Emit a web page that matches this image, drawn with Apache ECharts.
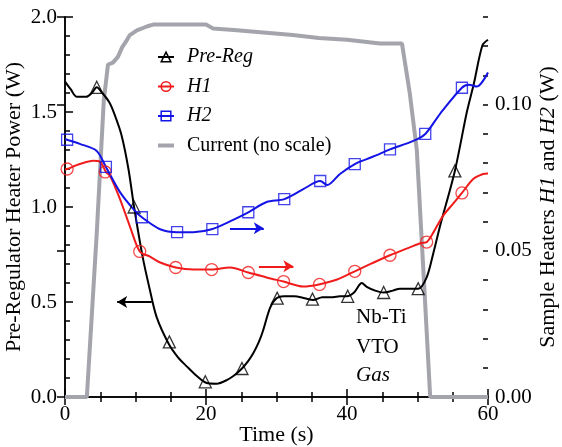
<!DOCTYPE html>
<html>
<head>
<meta charset="utf-8">
<script src="https://cdn.jsdelivr.net/npm/echarts@6/dist/echarts.min.js"></script>
<style>html,body{margin:0;padding:0;background:#fff;}#c{width:562px;height:447px;}</style>
</head>
<body>
<div id="c"></div>
<script>
// ---- Data ----
// Pre-Regulator heater power (W), left axis
var preT = [0, 0.8, 1.7, 3.0, 3.8, 4.5, 5.3, 6.3, 7.0, 8.0, 9.0, 9.8, 11.0, 12.0, 13.0, 14.7, 16.0, 17.3, 18.7, 20.0, 21.5, 23.0, 24.2, 25.1, 26.0, 26.7, 27.5, 28.1, 29.1, 30.0, 31.0, 32.5, 34.0, 35.2, 36.5, 38.0, 39.0, 40.0, 41.0, 42.1, 42.8, 44.0, 45.2, 46.5, 47.5, 49.0, 50.1, 51.3, 52.2, 53.2, 55.3, 57.0, 58.0, 59.2, 60];
var preW = [1.66, 1.62, 1.58, 1.58, 1.60, 1.63, 1.60, 1.55, 1.49, 1.38, 1.20, 1.00, 0.74, 0.57, 0.42, 0.28, 0.21, 0.16, 0.11, 0.075, 0.07, 0.09, 0.12, 0.15, 0.19, 0.23, 0.29, 0.35, 0.47, 0.52, 0.53, 0.53, 0.52, 0.51, 0.525, 0.525, 0.53, 0.53, 0.55, 0.60, 0.58, 0.56, 0.55, 0.56, 0.57, 0.57, 0.57, 0.63, 0.75, 0.90, 1.19, 1.50, 1.65, 1.85, 1.88];
var preMarkT = [4.5, 9.8, 14.8, 19.9, 25.1, 30.1, 35.1, 40.1, 45.2, 50.1, 55.3];
var preMarkW = [1.63, 1.00, 0.29, 0.08, 0.15, 0.52, 0.515, 0.53, 0.55, 0.57, 1.19];

// Sample heater H1 (W), right axis
var h1T = [0, 0.3, 2.1, 4.0, 5.0, 5.8, 6.4, 7.8, 9.2, 10.6, 12.0, 13.5, 15.7, 18.2, 20.8, 23.4, 26.0, 28.6, 31.0, 33.8, 36.0, 38.6, 41.1, 43.5, 46.1, 48.9, 50.5, 51.3, 52.3, 53.6, 55.0, 56.3, 57.9, 59.3, 60];
var h1V = [0.0778, 0.078, 0.0797, 0.0808, 0.0804, 0.077, 0.0756, 0.0677, 0.0584, 0.0498, 0.0481, 0.046, 0.0443, 0.0436, 0.0436, 0.0443, 0.0426, 0.0409, 0.0395, 0.0378, 0.0385, 0.0402, 0.043, 0.0457, 0.0485, 0.0512, 0.0527, 0.053, 0.0565, 0.0619, 0.066, 0.0698, 0.0746, 0.0763, 0.0765];
var h1MarkT = [0.3, 5.7, 10.6, 15.7, 20.8, 26.0, 31.0, 36.1, 41.1, 46.1, 51.3, 56.3];
var h1MarkV = [0.078, 0.077, 0.0498, 0.0443, 0.0436, 0.0426, 0.0395, 0.0385, 0.043, 0.0485, 0.053, 0.0698];

// Sample heater H2 (W), right axis
var h2T = [0, 0.3, 2.1, 4.5, 5.8, 7.8, 9.7, 10.9, 13.5, 15.9, 18.2, 20.8, 23.4, 26.0, 28.6, 31.1, 33.8, 36.2, 37.2, 39.0, 41.1, 42.8, 44.5, 46.1, 49.4, 51.1, 53.2, 56.3, 57.3, 58.4, 60];
var h2V = [0.0882, 0.088, 0.0866, 0.0842, 0.0787, 0.0701, 0.0643, 0.0615, 0.0574, 0.0564, 0.0564, 0.0574, 0.0601, 0.0632, 0.0667, 0.0677, 0.0711, 0.0739, 0.0725, 0.0763, 0.0797, 0.0814, 0.083, 0.0847, 0.0876, 0.090, 0.0969, 0.1058, 0.1068, 0.1062, 0.1110];
var h2MarkT = [0.3, 5.8, 10.9, 15.9, 20.9, 26.0, 31.1, 36.2, 41.1, 46.1, 51.1, 56.3];
var h2MarkV = [0.088, 0.0787, 0.0615, 0.0564, 0.0574, 0.0632, 0.0677, 0.0739, 0.0797, 0.0847, 0.090, 0.1058];

// Current (no scale), drawn against the left axis
var curT = [0, 3.1, 4.5, 5.0, 5.5, 6.1, 6.8, 7.5, 8.1, 8.8, 9.2, 10.2, 11.6, 12.5, 20.0, 21.0, 24.4, 27.7, 32.3, 36.0, 40.0, 44.7, 47.8, 48.9, 49.9, 50.9, 51.8, 60];
var curV = [0, 0, 0.86, 1.21, 1.56, 1.75, 1.76, 1.79, 1.84, 1.88, 1.905, 1.93, 1.95, 1.96, 1.96, 1.94, 1.93, 1.92, 1.905, 1.89, 1.88, 1.86, 1.86, 1.60, 1.30, 0.62, 0, 0];

// Axis ticks
var xTicks = [0, 20, 40, 60];
var leftTicks = [0.0, 0.5, 1.0, 1.5, 2.0];
var rightTicks = [0.00, 0.05, 0.10];

function zip(a, b) { return a.map(function (v, i) { return [v, b[i]]; }); }

var FONT = 'Liberation Serif';
var RED = '#f01c1c', BLUE = '#1414e6', GRAY = '#a4a4ac', BLACK = '#000';

var chart = echarts.init(document.getElementById('c'), null, { renderer: 'canvas' });

var axisLineStyle = { color: BLACK, width: 1.5 };

var option = {
  animation: false,
  backgroundColor: '#fff',
  grid: { left: 65, right: 74, top: 17, bottom: 50, containLabel: false, outerBoundsMode: 'none' },
  xAxis: [
    {
      type: 'value', min: xTicks[0], max: xTicks[xTicks.length - 1], interval: 20,
      name: 'Time (s)', nameLocation: 'middle', nameGap: 27, nameMoveOverlap: false,
      nameTextStyle: { fontFamily: FONT, fontSize: 22, color: BLACK },
      axisLine: { lineStyle: axisLineStyle },
      axisTick: { inside: true, length: 8, lineStyle: { color: BLACK, width: 1.5 } },
      minorTick: { show: true, splitNumber: 4, length: 5, lineStyle: { color: BLACK, width: 1.5 } },
      axisLabel: { fontFamily: FONT, fontSize: 21, color: BLACK, margin: 7 },
      splitLine: { show: false }
    },
    {
      type: 'value', position: 'top', min: xTicks[0], max: xTicks[xTicks.length - 1], interval: 20,
      axisLine: { lineStyle: axisLineStyle },
      axisTick: { inside: true, length: 8, lineStyle: { color: BLACK, width: 1.5 } },
      minorTick: { show: true, splitNumber: 4, length: 5, lineStyle: { color: BLACK, width: 1.5 } },
      axisLabel: { show: false },
      splitLine: { show: false }
    }
  ],
  yAxis: [
    {
      type: 'value', position: 'left', min: leftTicks[0], max: leftTicks[leftTicks.length - 1], interval: 0.5,
      name: 'Pre-Regulator Heater Power (W)', nameLocation: 'middle', nameGap: 40, nameRotate: 90, nameMoveOverlap: false,
      nameTextStyle: { fontFamily: FONT, fontSize: 22, color: BLACK },
      axisLine: { lineStyle: axisLineStyle },
      axisTick: { inside: true, length: 8, lineStyle: { color: BLACK, width: 1.5 } },
      minorTick: { show: true, splitNumber: 5, length: 5, lineStyle: { color: BLACK, width: 1.5 } },
      axisLabel: { fontFamily: FONT, fontSize: 21, color: BLACK, margin: 8,
        formatter: function (v) { return v.toFixed(1); } },
      splitLine: { show: false }
    },
    {
      type: 'value', position: 'right', min: rightTicks[0], max: 0.13, interval: 0.05,
      name: '{n|Sample Heaters }{i|H1}{n| and }{i|H2}{n| (W)}', nameLocation: 'middle', nameGap: 49, nameRotate: 90, nameMoveOverlap: false,
      nameTextStyle: { fontFamily: FONT, fontSize: 22, color: BLACK,
        rich: { n: { fontFamily: FONT, fontSize: 22, color: BLACK }, i: { fontFamily: FONT, fontSize: 22, fontStyle: 'italic', color: BLACK } } },
      axisLine: { lineStyle: axisLineStyle },
      axisTick: { inside: true, length: 8, lineStyle: { color: BLACK, width: 1.5 } },
      axisLabel: { fontFamily: FONT, fontSize: 21, color: BLACK, margin: 7,
        formatter: function (v) {
          for (var i = 0; i < rightTicks.length; i++) { if (Math.abs(v - rightTicks[i]) < 1e-9) return v.toFixed(2); }
          return '';
        } },
      splitLine: { show: false }
    },
    {
      type: 'value', position: 'right', min: rightTicks[0], max: 0.13, interval: 0.01,
      axisLine: { show: false },
      axisTick: { inside: true, length: 5, lineStyle: { color: BLACK, width: 1.5 } },
      axisLabel: { show: false },
      splitLine: { show: false }
    }
  ],
  legend: {
    orient: 'vertical', left: 152, top: 42,
    itemWidth: 16, itemHeight: 12, itemGap: 9.5,
    textStyle: { fontFamily: FONT, fontSize: 20, color: BLACK, padding: [0, 0, 0, 8] },
    itemStyle: { color: 'rgba(0,0,0,0)', borderWidth: 1.5 },
    data: [
      { name: 'Pre-Reg', textStyle: { fontStyle: 'italic' } },
      { name: 'H1', textStyle: { fontStyle: 'italic' } },
      { name: 'H2', textStyle: { fontStyle: 'italic' } },
      { name: 'Current (no scale)', icon: 'path://M0,0H16V4H0Z', itemStyle: { color: GRAY, borderWidth: 0 } }
    ]
  },
  graphic: [
    { type: 'text', left: 356, top: 307, style: { text: 'Nb-Ti', font: '21px "Liberation Serif"', fill: BLACK } },
    { type: 'text', left: 356, top: 337, style: { text: 'VTO', font: '21px "Liberation Serif"', fill: BLACK } },
    { type: 'text', left: 356, top: 365, style: { text: 'Gas', font: 'italic 21px "Liberation Serif"', fill: BLACK } }
  ],
  series: [
    {
      name: 'Current (no scale)', type: 'line', xAxisIndex: 0, yAxisIndex: 0,
      data: zip(curT, curV), symbol: 'none', smooth: false,
      lineStyle: { color: GRAY, width: 4 }, itemStyle: { color: GRAY }, z: 1
    },
    {
      name: 'Pre-Reg', type: 'line', xAxisIndex: 0, yAxisIndex: 0,
      data: zip(preT, preW), symbol: 'triangle', showSymbol: false, smooth: 0.3,
      lineStyle: { color: BLACK, width: 2 }, itemStyle: { color: BLACK, borderColor: BLACK }, z: 3,
      markLine: {
        silent: true, symbol: ['none', 'arrow'], symbolSize: [9, 10], animation: false,
        label: { show: false }, lineStyle: { color: BLACK, width: 2, type: 'solid' },
        data: [[{ coord: [12.3, 0.5] }, { coord: [7.4, 0.5] }]]
      }
    },
    {
      name: 'Pre-Reg', type: 'scatter', xAxisIndex: 0, yAxisIndex: 0,
      data: zip(preMarkT, preMarkW), symbol: 'triangle', symbolSize: 12,
      itemStyle: { color: 'rgba(0,0,0,0)', borderColor: BLACK, borderWidth: 1.3 }, z: 4
    },
    {
      name: 'H1', type: 'line', xAxisIndex: 0, yAxisIndex: 1,
      data: zip(h1T, h1V), symbol: 'circle', showSymbol: false, smooth: 0.3,
      lineStyle: { color: RED, width: 2 }, itemStyle: { color: RED, borderColor: RED }, z: 3,
      markLine: {
        silent: true, symbol: ['none', 'arrow'], symbolSize: [9, 10], animation: false,
        label: { show: false }, lineStyle: { color: RED, width: 2, type: 'solid' },
        data: [[{ coord: [27.5, 0.0447] }, { coord: [32.4, 0.0447] }]]
      }
    },
    {
      name: 'H1', type: 'scatter', xAxisIndex: 0, yAxisIndex: 1,
      data: zip(h1MarkT, h1MarkV), symbol: 'circle', symbolSize: 12,
      itemStyle: { color: 'rgba(0,0,0,0)', borderColor: RED, borderWidth: 1.3 }, z: 4
    },
    {
      name: 'H2', type: 'line', xAxisIndex: 0, yAxisIndex: 1,
      data: zip(h2T, h2V), symbol: 'rect', showSymbol: false, smooth: 0.3,
      lineStyle: { color: BLUE, width: 2 }, itemStyle: { color: BLUE, borderColor: BLUE }, z: 3,
      markLine: {
        silent: true, symbol: ['none', 'arrow'], symbolSize: [9, 10], animation: false,
        label: { show: false }, lineStyle: { color: BLUE, width: 2, type: 'solid' },
        data: [[{ coord: [23.4, 0.0577] }, { coord: [28.2, 0.0577] }]]
      }
    },
    {
      name: 'H2', type: 'scatter', xAxisIndex: 0, yAxisIndex: 1,
      data: zip(h2MarkT, h2MarkV), symbol: 'rect', symbolSize: 11,
      itemStyle: { color: 'rgba(0,0,0,0)', borderColor: BLUE, borderWidth: 1.3 }, z: 4
    }
  ]
};
chart.setOption(option);
</script>
</body>
</html>
